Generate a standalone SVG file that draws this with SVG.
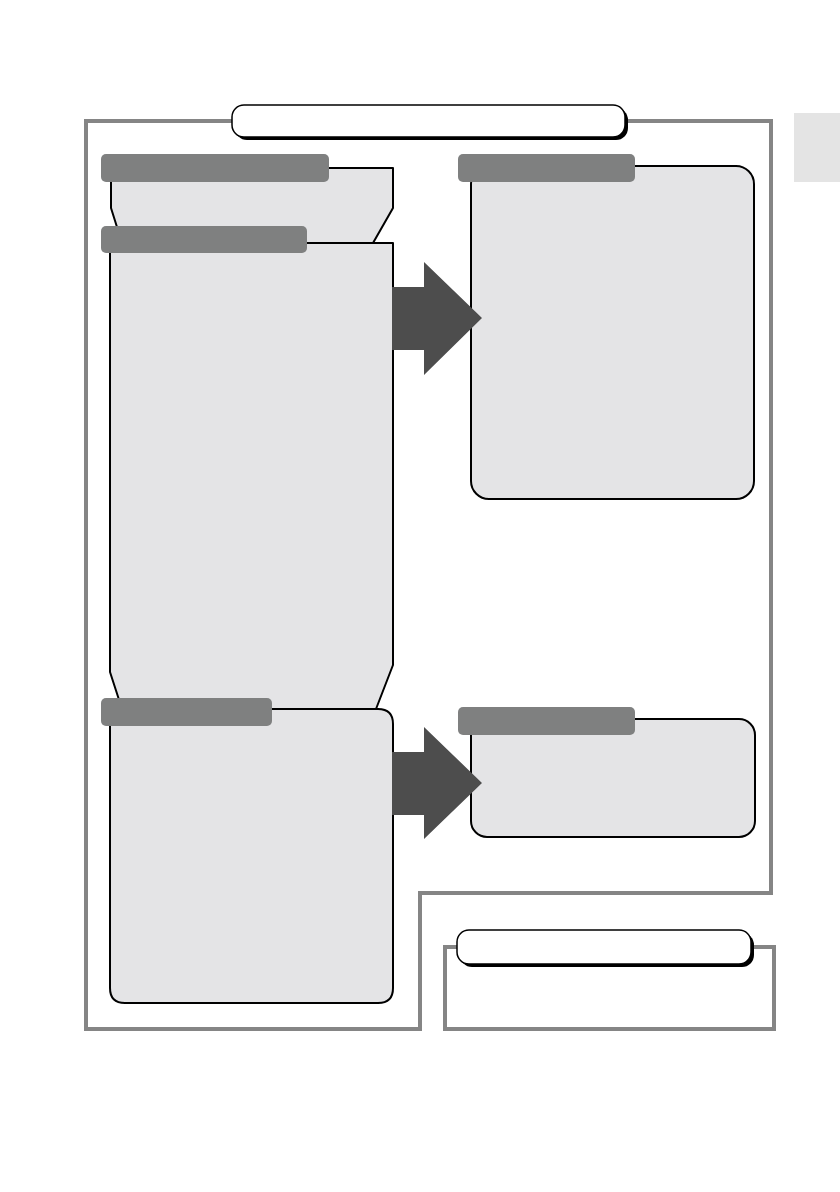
<svg xmlns="http://www.w3.org/2000/svg" width="840" height="1192" viewBox="0 0 840 1192">
<style>
.frame{fill:none;stroke:#858585;stroke-width:4}
.box{fill:#e4e4e6;stroke:#000;stroke-width:2;stroke-linejoin:round}
.hdr{fill:#7f8080}
.pill{fill:#fff;stroke:#000;stroke-width:1.5}
.shadow{fill:#000}
.arrow{fill:#4d4d4d}
</style>
<rect x="0" y="0" width="840" height="1192" fill="#fff"/>
<rect id="side-tab" x="794" y="113" width="46" height="69" fill="#e4e4e4"/>
<g id="outer-frame">
<path class="frame" d="M86 121 H771 V893 H420 V1029 H86 Z"/>
<rect class="shadow" x="235" y="108" width="393" height="32" rx="12"/>
<rect class="pill" x="232" y="105" width="393" height="32" rx="12"/>
</g>
<g id="note-frame">
<rect class="frame" x="445" y="947" width="329" height="82"/>
<rect class="shadow" x="460" y="933" width="294" height="34" rx="12"/>
<rect class="pill" x="457" y="930" width="294" height="34" rx="12"/>
</g>
<g id="node-top-left">
<path class="box" d="M111 168 H393 V208 L373 243 H122 L111 208 Z"/>
<rect class="hdr" x="101" y="154" width="228" height="28" rx="5"/>
</g>
<g id="node-mid-left">
<path class="box" d="M110 243 H393 V665 L376 709 H122 L110 672 Z"/>
<rect class="hdr" x="101" y="226" width="206" height="27" rx="5"/>
</g>
<g id="node-bottom-left">
<path class="box" d="M110 709 H378 Q393 709 393 724 V988 Q393 1003 378 1003 H125 Q110 1003 110 988 Z"/>
<rect class="hdr" x="101" y="698" width="171" height="28" rx="5"/>
</g>
<g id="node-top-right">
<rect class="box" x="471" y="166" width="283" height="333" rx="18"/>
<rect class="hdr" x="458" y="154" width="177" height="28" rx="5"/>
</g>
<g id="node-bottom-right">
<rect class="box" x="471" y="719" width="284" height="118" rx="16"/>
<rect class="hdr" x="458" y="707" width="177" height="28" rx="5"/>
</g>
<g id="connectors">
<path class="arrow" d="M392 287 H424 V262 L482 318 L424 375 V350 H392 Z"/>
<path class="arrow" d="M392 752 H424 V727 L482 783 L424 839 V815 H392 Z"/>
</g>
</svg>
